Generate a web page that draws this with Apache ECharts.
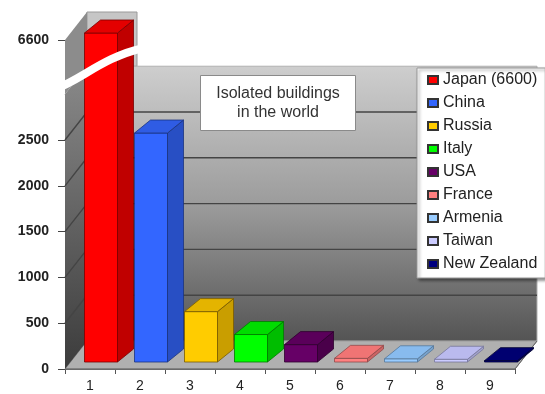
<!DOCTYPE html>
<html>
<head>
<meta charset="utf-8">
<script src="https://cdn.jsdelivr.net/npm/echarts@6/dist/echarts.min.js"></script>
<style>
html,body{margin:0;padding:0;background:#fff;}
#chart{width:545px;height:394px;}
</style>
</head>
<body>
<div id="chart"></div>
<script>
// ---- data ----
const categories = ['1', '2', '3', '4', '5', '6', '7', '8', '9'];
const countries = ['Japan (6600)', 'China', 'Russia', 'Italy', 'USA', 'France', 'Armenia', 'Taiwan', 'New Zealand'];
const values = [6600, 2500, 550, 300, 190, 40, 35, 30, 15];
const yTickValues = [0, 500, 1000, 1500, 2000, 2500, 6600];
const gridValues = [500, 1000, 1500, 2000, 2500];
const breakStart = 3000;
const breakEnd = 6300;

// ---- styles ----
const palette = [
  {front:'#ff0000', side:'#c00000', top:'#e40000', stroke:'#7a0000'},
  {front:'#3366ff', side:'#284fc4', top:'#2f5ce4', stroke:'#1a3380'},
  {front:'#ffcc00', side:'#c99e00', top:'#e4b400', stroke:'#7a5c00'},
  {front:'#00ff00', side:'#00bd00', top:'#00dc00', stroke:'#007a00'},
  {front:'#660066', side:'#4a004a', top:'#5a005a', stroke:'#2e002e'},
  {front:'#ff8080', side:'#cc6464', top:'#f07474', stroke:'#8f4a4a'},
  {front:'#99ccff', side:'#78a2cc', top:'#88bbee', stroke:'#557799'},
  {front:'#ccccff', side:'#a2a2cc', top:'#babaee', stroke:'#77779a'},
  {front:'#000080', side:'#000060', top:'#000070', stroke:'#000033'}
];
const D = {dx: 22, dy: -28};          // wall depth
const B = {shiftX: 11, shiftY: -7, widthRatio: 0.66, dx: 16, dy: -13}; // bar placement
const FONT = 'Liberation Sans, Arial, sans-serif';

const chart = echarts.init(document.getElementById('chart'), null, {renderer: 'canvas'});

function wallsRender(params, api) {
  const band = api.size([1, 0])[0];
  const p0 = api.coord([0, 0]);
  const pEnd = api.coord([categories.length - 1, 0]);
  const x0 = p0[0] - band / 2;
  const x1 = pEnd[0] + band / 2;
  const xL = p0[0] + band / 2;
  const y0 = p0[1];
  const yB = api.coord([0, breakStart])[1];
  const yT = api.coord([0, values[0]])[1];
  const children = [];
  // floor
  children.push({type:'polygon', shape:{points:[[x0,y0],[x1,y0],[x1+D.dx,y0+D.dy],[x0+D.dx,y0+D.dy]]},
    style:{fill:'#b0b0b0', stroke:'#8a8a8a', lineWidth:1}});
  // upper back wall (left part)
  children.push({type:'rect', shape:{x:x0+D.dx, y:yT+D.dy, width:xL-x0, height:yB-yT},
    style:{fill:'#c6c6c6', stroke:'#9a9a9a', lineWidth:1}});
  // upper side wall
  children.push({type:'polygon', shape:{points:[[x0,yT],[x0+D.dx,yT+D.dy],[x0+D.dx,yB+D.dy],[x0,yB]]},
    style:{fill:'#8c8c8c'}});
  // lower back wall
  children.push({type:'rect', shape:{x:x0+D.dx, y:yB+D.dy, width:x1-x0, height:y0-yB},
    style:{fill:new echarts.graphic.LinearGradient(0,0,0,1,[
      {offset:0,color:'#cecece'},{offset:0.5,color:'#9c9c9c'},{offset:1,color:'#545454'}]),
      stroke:'#b0b0b0', lineWidth:1}});
  // lower side wall
  children.push({type:'polygon', shape:{points:[[x0,yB],[x0+D.dx,yB+D.dy],[x0+D.dx,y0+D.dy],[x0,y0]]},
    style:{fill:new echarts.graphic.LinearGradient(0,0,0,1,[
      {offset:0,color:'#8a8a8a'},{offset:1,color:'#3c3c3c'}])}});
  // grid lines
  gridValues.forEach(v => {
    const y = api.coord([0, v])[1];
    children.push({type:'polyline', shape:{points:[[x0,y],[x0+D.dx,y+D.dy],[x1+D.dx,y+D.dy]]},
      style:{stroke:'#444', lineWidth:1.4, fill:null}});
  });
  // floor front edge / right edge
  children.push({type:'polyline', shape:{points:[[x0,y0],[x1,y0],[x1+D.dx,y0+D.dy]]},
    style:{stroke:'#666', lineWidth:1, fill:null}});
  return {type:'group', children};
}

function barRender(params, api) {
  const idx = api.value(0);
  const v = api.value(1);
  const c = palette[params.seriesIndex - 1];
  const band = api.size([1, 0])[0];
  const pTop = api.coord([idx, v]);
  const pBase = api.coord([idx, 0]);
  const w = band * B.widthRatio;
  const xl = pTop[0] + B.shiftX - w / 2;
  const xr = xl + w;
  const yt = pTop[1] + B.shiftY;
  const yb = pBase[1] + B.shiftY;
  const sw = 0.8;
  return {type:'group', children:[
    {type:'rect', shape:{x:xl, y:yt, width:w, height:yb-yt},
      style:{fill:c.front, stroke:c.stroke, lineWidth:sw}},
    {type:'polygon', shape:{points:[[xr,yt],[xr+B.dx,yt+B.dy],[xr+B.dx,yb+B.dy],[xr,yb]]},
      style:{fill:c.side, stroke:c.stroke, lineWidth:sw}},
    {type:'polygon', shape:{points:[[xl,yt],[xl+B.dx,yt+B.dy],[xr+B.dx,yt+B.dy],[xr,yt]]},
      style:{fill:c.top, stroke:c.stroke, lineWidth:sw}}
  ]};
}

function breakRender(params, api) {
  const band = api.size([1, 0])[0];
  const p0 = api.coord([0, 0]);
  const x0 = p0[0] - band / 2;
  const yB = api.coord([0, breakStart])[1];
  return {type:'path', shape:{pathData:
      'M' + (x0-8) + ' ' + (yB-6) +
      ' C' + (x0+15) + ' ' + (yB-14) + ' ' + (x0+40) + ' ' + (yB-38) + ' ' + (x0+78) + ' ' + (yB-46)},
    style:{stroke:'#ffffff', lineWidth:8, fill:null}};
}

const series = [{
  type:'custom', name:'walls', silent:true, z:1,
  data:[[0, 0]], renderItem: wallsRender, encode:{x:0, y:1}
}];
countries.forEach((name, i) => {
  series.push({
    type:'custom', name, z:3,
    itemStyle:{color: palette[i].front, borderColor:'#333', borderWidth:0.6},
    data:[[i, values[i]]], encode:{x:0, y:1},
    renderItem: barRender
  });
});
series.push({type:'custom', name:'break', silent:true, z:5, data:[[0,0]], encode:{x:0,y:1}, renderItem: breakRender});

const option = {
  animation:false,
  backgroundColor:'#ffffff',
  textStyle:{fontFamily:FONT},
  title:{
    text:'Isolated buildings\nin the world',
    left:262, top:75, textAlign:'center',
    padding:[9,16,9,16], z:10,
    backgroundColor:'#ffffff', borderColor:'#8a8a8a', borderWidth:1,
    textStyle:{fontSize:16, fontWeight:'normal', color:'#333', lineHeight:19, fontFamily:FONT}
  },
  legend:{
    orient:'vertical', left:417, top:68, z:10,
    data:countries,
    icon:'rect', itemWidth:10, itemHeight:8, itemGap:7,
    padding:[4,8,6,10],
    backgroundColor:'#ffffff', borderColor:'#999', borderWidth:1,
    shadowColor:'rgba(0,0,0,0.45)', shadowBlur:3, shadowOffsetX:2, shadowOffsetY:2,
    textStyle:{fontSize:16, color:'#222', lineHeight:16, fontFamily:FONT},
    selectedMode:false
  },
  grid:{left:65, right:30, top:40, bottom:25, containLabel:false},
  xAxis:{
    type:'category', data:categories, boundaryGap:true,
    axisLine:{show:true, lineStyle:{color:'#555', width:1}},
    axisTick:{show:true, alignWithLabel:false, length:5, lineStyle:{color:'#555'}},
    axisLabel:{fontSize:14, color:'#222', margin:10, fontFamily:FONT},
    splitLine:{show:false}
  },
  yAxis:{
    type:'value', min:0, max:6600,
    breaks:[{start:breakStart, end:breakEnd, gap:292}],
    breakArea:{show:false},
    axisLine:{show:false},
    axisTick:{show:true, customValues:yTickValues, length:7, lineStyle:{color:'#444'}},
    axisLabel:{customValues:yTickValues, formatter: v => String(v), fontSize:14, fontWeight:'bold', color:'#222', margin:16, fontFamily:FONT},
    splitLine:{show:false}
  },
  series
};
chart.setOption(option);
</script>
</body>
</html>
